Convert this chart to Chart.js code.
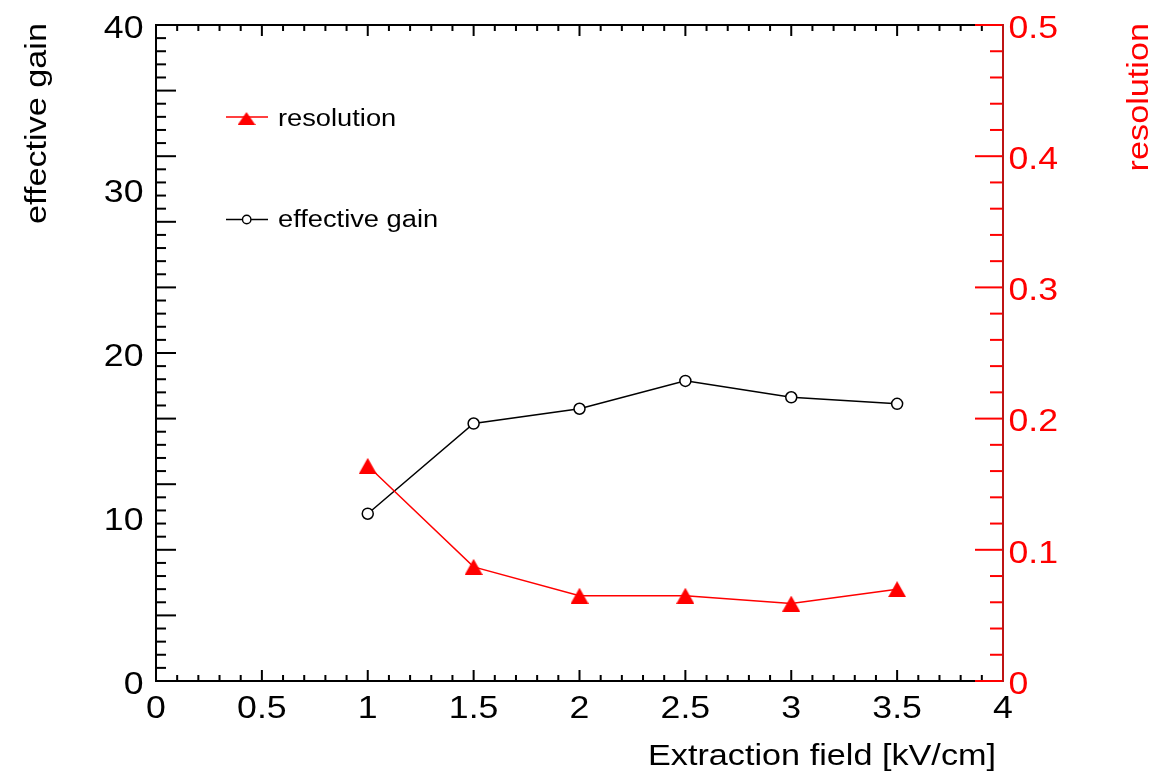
<!DOCTYPE html>
<html>
<head>
<meta charset="utf-8">
<script src="https://cdn.jsdelivr.net/npm/chart.js@4"></script>
<style>
  html, body { margin: 0; padding: 0; background: #fff; }
  canvas { display: block; }
</style>
</head>
<body>
<canvas id="chart" width="1151" height="777"></canvas>
<script>
// ── Data ─────────────────────────────────────────────────────
const fieldValues      = [1, 1.5, 2, 2.5, 3, 3.5];
const gainValues       = [10.2, 15.7, 16.6, 18.3, 17.3, 16.9];
const resolutionValues = [0.164, 0.087, 0.065, 0.065, 0.059, 0.070];

// ── Tick labels ──────────────────────────────────────────────
const fieldTickLabels      = [0, 0.5, 1, 1.5, 2, 2.5, 3, 3.5, 4];
const gainTickLabels       = [0, 10, 20, 30, 40];
const resolutionTickLabels = [0, 0.1, 0.2, 0.3, 0.4, 0.5];

const FONT = "'Liberation Sans', Arial, Helvetica, sans-serif";
const RED = '#ff0000';

// triangle marker, centred by its bounding box like ROOT does
function makeTriangle(w, h, color) {
    const c = document.createElement('canvas');
    c.width = w; c.height = h;
    const g = c.getContext('2d');
    g.fillStyle = color;
    g.beginPath();
    g.moveTo(w / 2, 0);
    g.lineTo(w, h);
    g.lineTo(0, h);
    g.closePath();
    g.fill();
    return c;
}
const triangle = makeTriangle(18, 16, RED);

// the reference glyphs are a bit wider than Arial, so stretch them
function wideText(ctx, text, x, y, align, size, color, stretch, angle = 0) {
    ctx.save();
    ctx.translate(x, y);
    if (angle) ctx.rotate(angle);
    ctx.scale(stretch, 1);
    ctx.font = `${size}px ${FONT}`;
    ctx.fillStyle = color;
    ctx.textAlign = align;
    ctx.textBaseline = 'alphabetic';
    ctx.fillText(text, 0, 0);
    ctx.restore();
}

function tickMarks(scale, count, step, every, minorLen, majorLen, draw) {
    for (let i = 1; i < count; i++) {
        const p = scale.getPixelForValue(i * step);
        draw(p, i % every === 0 ? majorLen : minorLen);
    }
}

// ── ROOT-like frame, ticks, labels, titles and legend ────────
const rootFrame = {
    id: 'rootFrame',
    afterDraw(chart) {
        const { ctx, chartArea: a, scales } = chart;
        const x = scales.x, y = scales.y, y1 = scales.y1;

        ctx.save();
        ctx.lineCap = 'butt';

        // frame
        ctx.strokeStyle = '#000';
        ctx.lineWidth = 2;
        ctx.strokeRect(a.left, a.top, a.right - a.left, a.bottom - a.top);

        // x ticks, bottom and top
        tickMarks(x, 40, 0.1, 5, 6, 11, (p, len) => {
            ctx.beginPath();
            ctx.moveTo(p, a.bottom); ctx.lineTo(p, a.bottom - len);
            ctx.moveTo(p, a.top); ctx.lineTo(p, a.top + len);
            ctx.stroke();
        });

        // left ticks
        tickMarks(y, 50, 0.8, 5, 10, 20, (p, len) => {
            ctx.beginPath();
            ctx.moveTo(a.left, p); ctx.lineTo(a.left + len, p);
            ctx.stroke();
        });

        // right red axis
        ctx.strokeStyle = RED;
        for (let i = 0; i <= 25; i++) {
            const p = y1.getPixelForValue(i * 0.02);
            const len = i % 5 === 0 ? 28 : 13;
            ctx.beginPath();
            ctx.moveTo(a.right, p); ctx.lineTo(a.right - len, p);
            ctx.stroke();
        }
        ctx.strokeStyle = 'rgb(190, 20, 20)';
        ctx.beginPath();
        ctx.moveTo(a.right, a.top - 1); ctx.lineTo(a.right, a.bottom + 1);
        ctx.stroke();

        // tick labels
        x.ticks.forEach(t => {
            wideText(ctx, String(t.value), x.getPixelForValue(t.value), a.bottom + 36.5, 'center', 31, '#000', 1.15);
        });
        y.ticks.forEach(t => {
            wideText(ctx, String(t.value), a.left - 12.5, y.getPixelForValue(t.value) + 13, 'right', 31, '#000', 1.15);
        });
        y1.ticks.forEach(t => {
            wideText(ctx, String(t.value), a.right + 5.5, y1.getPixelForValue(t.value) + 12.8, 'left', 31, RED, 1.15);
        });

        // axis titles
        wideText(ctx, 'Extraction field [kV/cm]', 996, 765, 'right', 29, '#000', 1.18);
        wideText(ctx, 'effective gain', 46, 23, 'right', 29, '#000', 1.18, -Math.PI / 2);
        wideText(ctx, 'resolution', 1148, 23, 'right', 29, RED, 1.18, -Math.PI / 2);

        // legend
        const ds = chart.data.datasets;
        ctx.lineWidth = 1.5;
        ctx.strokeStyle = RED;
        ctx.beginPath(); ctx.moveTo(226, 117); ctx.lineTo(268, 117); ctx.stroke();
        ctx.drawImage(triangle, 237.5, 112, 18, 13);
        wideText(ctx, ds[0].label, 278, 126, 'left', 23.5, '#000', 1.16);

        ctx.strokeStyle = '#000';
        ctx.beginPath(); ctx.moveTo(226, 219.5); ctx.lineTo(268, 219.5); ctx.stroke();
        ctx.fillStyle = '#fff';
        ctx.lineWidth = 1.4;
        ctx.beginPath(); ctx.arc(246.7, 219.5, 4.2, 0, Math.PI * 2); ctx.fill(); ctx.stroke();
        wideText(ctx, ds[1].label, 278, 227, 'left', 23.5, '#000', 1.16);

        ctx.restore();
    }
};

const toPoints = vals => fieldValues.map((f, i) => ({ x: f, y: vals[i] }));
const setTicks = list => scale => { scale.ticks = list.map(v => ({ value: v })); };

new Chart(document.getElementById('chart'), {
    type: 'line',
    data: {
        datasets: [
            {
                label: 'resolution',
                data: toPoints(resolutionValues),
                yAxisID: 'y1',
                borderColor: RED,
                borderWidth: 1.5,
                pointStyle: triangle,
                pointRadius: 9,
                tension: 0
            },
            {
                label: 'effective gain',
                data: toPoints(gainValues),
                yAxisID: 'y',
                borderColor: '#000',
                borderWidth: 1.5,
                pointStyle: 'circle',
                pointRadius: 5.5,
                pointBorderWidth: 1.5,
                pointBorderColor: '#000',
                pointBackgroundColor: '#fff',
                tension: 0
            }
        ]
    },
    options: {
        responsive: false,
        devicePixelRatio: 1,
        animation: false,
        layout: { padding: { top: 25, left: 0, right: 0, bottom: 0 } },
        plugins: {
            legend: { display: false },
            tooltip: { enabled: false }
        },
        scales: {
            x: {
                type: 'linear',
                position: 'bottom',
                min: 0,
                max: 4,
                grid: { display: false },
                border: { display: false },
                ticks: { display: false },
                afterBuildTicks: setTicks(fieldTickLabels),
                afterFit: s => { s.height = 96; }
            },
            y: {
                type: 'linear',
                position: 'left',
                min: 0,
                max: 40,
                grid: { display: false },
                border: { display: false },
                ticks: { display: false },
                afterBuildTicks: setTicks(gainTickLabels),
                afterFit: s => { s.width = 156; }
            },
            y1: {
                type: 'linear',
                position: 'right',
                min: 0,
                max: 0.5,
                grid: { display: false },
                border: { display: false },
                ticks: { display: false },
                afterBuildTicks: setTicks(resolutionTickLabels),
                afterFit: s => { s.width = 148; }
            }
        }
    },
    plugins: [rootFrame]
});
</script>
</body>
</html>
